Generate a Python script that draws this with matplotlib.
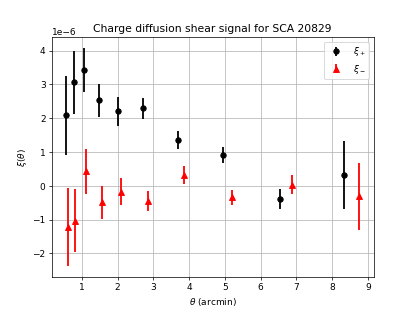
import numpy as np
import matplotlib
matplotlib.use("Agg")
import matplotlib.pyplot as plt

# xi_+ (black circles)
theta_p = [0.57, 0.78, 1.07, 1.48, 2.00, 2.71, 3.68, 4.95, 6.55, 8.32]
xi_p = [2.09, 3.07, 3.43, 2.53, 2.20, 2.30, 1.36, 0.92, -0.39, 0.32]
err_p = [1.17, 0.93, 0.65, 0.49, 0.42, 0.31, 0.27, 0.24, 0.30, 1.01]

# xi_- (red triangles)
theta_m = [0.60, 0.81, 1.12, 1.56, 2.09, 2.84, 3.86, 5.20, 6.89, 8.75]
xi_m = [-1.21, -1.035, 0.43, -0.485, -0.175, -0.44, 0.315, -0.34, 0.035, -0.31]
err_m = [1.16, 0.93, 0.66, 0.485, 0.405, 0.30, 0.265, 0.23, 0.285, 1.00]

scale = 1e-6

fig = plt.figure(figsize=(6.4, 4.8), dpi=415 / 6.4)
ax = fig.add_subplot(111)

ax.errorbar(theta_p, np.array(xi_p) * scale, yerr=np.array(err_p) * scale,
            fmt='o', color='k', elinewidth=2, label=r'$\xi_+$')
ax.errorbar(theta_m, np.array(xi_m) * scale, yerr=np.array(err_m) * scale,
            fmt='^', color='r', elinewidth=2, label=r'$\xi_-$')

ax.set_xlabel(r'$\theta$ (arcmin)')
ax.set_ylabel(r'$\xi(\theta)$')
ax.set_title('Charge diffusion shear signal for SCA 20829')
ax.grid(True)
ax.legend(loc='upper right')

fig.savefig('out.png')
